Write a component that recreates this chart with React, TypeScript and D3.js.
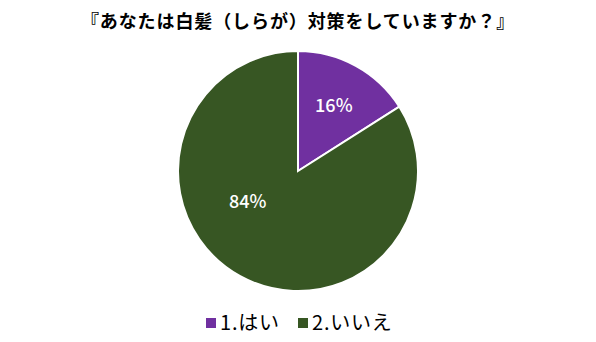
import React from "react";
import * as d3 from "d3";

const title = "『あなたは白髪（しらが）対策をしていますか？』";
const categories = ["1.はい", "2.いいえ"];
const values = [16, 84];
const colors = ["#7030A0", "#375623"];
// label placement (angle in degrees clockwise from top, radius fraction)
const labelAngles = [28.8, 239];
const labelRadii = [0.62, 0.49];

const W = 596;
const H = 342;
const cx = 298;
const cy = 171;
const R = 120;
const font = "'Noto Sans CJK JP', 'Noto Sans', sans-serif";

export default function App() {
  const pie = d3.pie<number>().sort(null).value((d) => d)(values);
  const arc = d3.arc<d3.PieArcDatum<number>>().innerRadius(0).outerRadius(R);
  const total = d3.sum(values);
  const legendX = [206, 298];
  return (
    <svg width={W} height={H} style={{ position: "absolute", left: 0, top: 0, background: "#fff" }}>
      <text x={cx} y={28} textAnchor="middle" fontFamily={font} fontWeight="bold" fontSize={18} letterSpacing={0.9} fill="#000">
        {title}
      </text>
      <g transform={`translate(${cx},${cy})`}>
        {pie.map((d, i) => (
          <path key={i} d={arc(d) || ""} fill={colors[i]} stroke="#fff" strokeWidth={2} />
        ))}
        {pie.map((d, i) => {
          const [x, y] = d3.pointRadial((labelAngles[i] * Math.PI) / 180, labelRadii[i] * R);
          return (
            <text key={i} x={x} y={y} dy="0.35em" textAnchor="middle" fontFamily={font} fontWeight={500} fontSize={18} fill="#fff">
              {Math.round((values[i] / total) * 100)}%
            </text>
          );
        })}
      </g>
      {categories.map((c, i) => (
        <g key={c} transform={`translate(${legendX[i]},323)`}>
          <rect x={0} y={-5} width={10} height={10} fill={colors[i]} />
          <text x={14} y={0} dy="0.35em" fontFamily={font} fontSize={20} letterSpacing={0.8} fill="#000">
            {c}
          </text>
        </g>
      ))}
    </svg>
  );
}
